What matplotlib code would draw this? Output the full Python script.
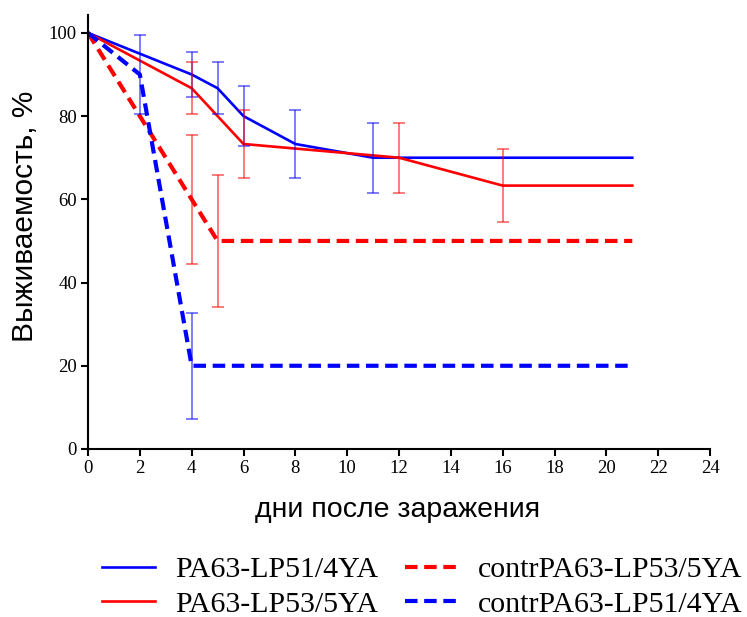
import matplotlib
matplotlib.use("Agg")
import matplotlib.pyplot as plt

# данные выживаемости (%)
days_lp51 = [0, 4, 5, 6, 8, 11, 21]
surv_lp51 = [100, 90, 86.7, 80, 73.3, 70, 70]
err_days_lp51 = [4, 5, 6, 8, 11]
err_mean_lp51 = [90, 86.7, 80, 73.3, 70]
err_lp51 = [5.5, 6.2, 7.3, 8.1, 8.4]

days_lp53 = [0, 4, 5, 6, 12, 16, 21]
surv_lp53 = [100, 86.7, 80, 73.3, 70, 63.3, 63.3]
err_days_lp53 = [4, 6, 12, 16]
err_mean_lp53 = [86.7, 73.3, 70, 63.3]
err_lp53 = [6.2, 8.2, 8.4, 8.8]

days_c53 = [0, 4, 5, 21]
surv_c53 = [100, 60, 50, 50]
err_days_c53 = [4, 5]
err_mean_c53 = [60, 50]
err_c53 = [15.5, 15.8]

days_c51 = [0, 2, 4, 21]
surv_c51 = [100, 90, 20, 20]
err_days_c51 = [2, 4]
err_mean_c51 = [90, 20]
err_c51 = [9.5, 12.7]

BLUE = "#0000ff"
RED = "#ff0000"

fig = plt.figure(figsize=(7.47, 6.17), dpi=100)
ax = fig.add_axes([0.1178, 0.2723, 0.8327, 0.7034])

dash = (3, 1.6)
l1, = ax.plot(days_lp51, surv_lp51, color=BLUE, lw=1.9, label="PA63-LP51/4YA")
l2, = ax.plot(days_lp53, surv_lp53, color=RED, lw=1.9, label="PA63-LP53/5YA")
l3, = ax.plot(days_c53, surv_c53, color=RED, lw=3, dashes=dash, label="contrPA63-LP53/5YA")
l4, = ax.plot(days_c51, surv_c51, color=BLUE, lw=3, dashes=dash, label="contrPA63-LP51/4YA")

for d, m, e, c in [(err_days_lp51, err_mean_lp51, err_lp51, BLUE),
                   (err_days_lp53, err_mean_lp53, err_lp53, RED),
                   (err_days_c53, err_mean_c53, err_c53, RED),
                   (err_days_c51, err_mean_c51, err_c51, BLUE)]:
    ax.errorbar(d, m, yerr=e, fmt="none", ecolor=c, alpha=0.6,
                elinewidth=1.2, capsize=4, capthick=1.2)

ax.set_xlim(0, 24)
ax.set_ylim(0, 104.3)
ax.set_xticks(range(0, 25, 2))
ax.set_yticks(range(0, 101, 20))
for s in ["top", "right"]:
    ax.spines[s].set_visible(False)
for s in ["left", "bottom"]:
    ax.spines[s].set_linewidth(1.5)
ax.tick_params(width=1.5, length=5, labelsize=13.5, pad=3)
for lab in ax.get_xticklabels() + ax.get_yticklabels():
    lab.set_family("Liberation Serif")

ax.set_xlabel("дни после заражения", family="Liberation Sans", fontsize=20.5,
              va="baseline")
ax.set_ylabel("Выживаемость, %", family="Liberation Sans", fontsize=21.5,
              va="center")
ax.xaxis.set_label_coords(0.498, -0.157)
ax.yaxis.set_label_coords(-0.101, 0.537)

fig.legend(handles=[l1, l2, l3, l4], ncol=2, loc="center left",
           bbox_to_anchor=(0.1365, 0.0486), frameon=False,
           prop={"family": "Liberation Serif", "size": 21.5},
           handlelength=1.77, handletextpad=0.67, columnspacing=0.9,
           labelspacing=0.25, borderpad=0, borderaxespad=0)

fig.savefig("out.png", dpi=100)
